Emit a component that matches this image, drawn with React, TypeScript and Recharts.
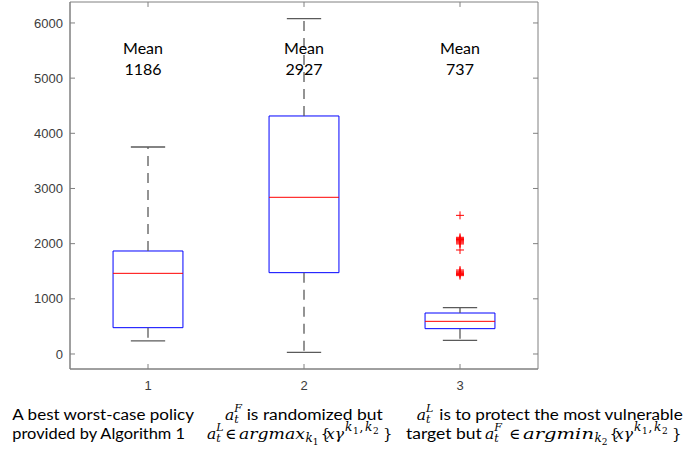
import React from 'react';
import {
  ComposedChart,
  XAxis,
  YAxis,
  ReferenceArea,
  ReferenceLine,
  ReferenceDot,
  Scatter,
} from 'recharts';

// ---- data ----
const categories = [1, 2, 3];
const xTickLabels = ['1', '2', '3'];
const yTicks = [0, 1000, 2000, 3000, 4000, 5000, 6000];
const lowerWhisker = [236, 30, 248];
const q1 = [477, 1474, 459];
const medians = [1462, 2840, 592];
const q3 = [1867, 4314, 743];
const upperWhisker = [3752, 6078, 840];
const means = [1186, 2927, 737];
const outlierCategory = 3;
const outlierValues = [
  2513, 2115, 2095, 2075, 2055, 2035, 2015, 1995, 1885, 1522, 1500, 1480, 1460, 1440, 1420,
];

// ---- layout constants ----
const W = 684;
const H = 453;
const Y_DOMAIN: [number, number] = [-272, 6380];
const X_DOMAIN: [number, number] = [0.5, 3.5];
const BOX_HALF = 0.224;
const CAP_HALF = 0.11;
const TICK_LEN_X = 0.032; // ~5px in x units
const TICK_LEN_Y = 90; // ~5px in y units
const MEAN_LABEL_Y = 5256;
const MEAN_LABEL_DX = [-5, 0, 0];

const BLUE = '#0000ff';
const RED = '#ff0000';
const WHISKER = '#5a5a5a';
const FRAME = '#808080';
const TICK_TEXT = '#3c3c3c';
const TEXT_FONT = 'Lato, "Open Sans", sans-serif';
const MATH_FONT = '"DejaVu Serif", "Liberation Serif", serif';
const TICK_FONT = '"Liberation Sans", Arial, sans-serif';

const outliers = outlierValues.map((v) => ({ x: outlierCategory, y: v }));

const PlusShape = (props: any) => {
  const { cx, cy } = props;
  if (cx == null || cy == null) return <g />;
  const s = 4;
  return (
    <g>
      <line x1={cx - s} y1={cy} x2={cx + s} y2={cy} stroke={RED} strokeWidth={1} />
      <line x1={cx} y1={cy - s} x2={cx} y2={cy + s} stroke={RED} strokeWidth={1} />
    </g>
  );
};

const makeMeanShape = (value: number, dx: number) => (props: any) => {
  const { cx, cy } = props;
  return (
    <g>
      <text x={cx + dx} y={cy - 10} textAnchor="middle" fontFamily={TEXT_FONT} fontSize={16} fill="#000">
        Mean
      </text>
      <text x={cx + dx} y={cy + 10.5} textAnchor="middle" fontFamily={TEXT_FONT} fontSize={16} fill="#000">
        {String(value)}
      </text>
    </g>
  );
};

// ---- caption helpers ----
const Txt = ({ x, y, len, children }: any) => (
  <text x={x} y={y} fontFamily={TEXT_FONT} fontSize={15.5} fill="#000" textLength={len} lengthAdjust="spacingAndGlyphs">
    {children}
  </text>
);

const MI = ({ x, y, size = 16, len, children, italic = true }: any) => (
  <text
    x={x}
    y={y}
    fontFamily={MATH_FONT}
    fontStyle={italic ? 'italic' : 'normal'}
    fontSize={size}
    fill="#000"
    textLength={len}
    lengthAdjust={len ? 'spacingAndGlyphs' : undefined}
  >
    {children}
  </text>
);

const Atom = ({ x, y, sup }: any) => (
  <g>
    <MI x={x} y={y} size={15.5}>a</MI>
    <MI x={x + 9.2} y={y - 7.5} size={11}>{sup}</MI>
    <MI x={x + 9.2} y={y + 3.5} size={11}>t</MI>
  </g>
);

const SetExpr = ({ x0, y, word, wordLen, idx }: any) => {
  const E = x0 + 14 + wordLen;
  return (
    <g>
      <MI x={x0} y={y} size={15} italic={false}>∈</MI>
      <MI x={x0 + 14} y={y} size={15.5} len={wordLen}>{word}</MI>
      <MI x={E + 0.5} y={y + 3.5} size={12}>k</MI>
      <MI x={E + 7.7} y={y + 6} size={9} italic={false}>{idx}</MI>
      <MI x={E + 15.5} y={y} size={15} italic={false}>{'{'}</MI>
      <MI x={E + 21} y={y} size={15.5} len={18}>xγ</MI>
      <MI x={E + 40} y={y - 7.5} size={12}>k</MI>
      <MI x={E + 48} y={y - 5} size={9} italic={false}>1</MI>
      <MI x={E + 54.5} y={y - 7.5} size={12} italic={false}>,</MI>
      <MI x={E + 60} y={y - 7.5} size={12}>k</MI>
      <MI x={E + 68} y={y - 5} size={9} italic={false}>2</MI>
      <MI x={E + 78} y={y} size={15} italic={false}>{'}'}</MI>
    </g>
  );
};

const Caption = () => (
  <svg
    width={W}
    height={H}
    style={{ position: 'absolute', left: 0, top: 0, pointerEvents: 'none' }}
  >
    {/* column 1 */}
    <Txt x={12.3} y={420} len={181.7}>A best worst-case policy</Txt>
    <Txt x={12.3} y={438.5} len={172.7}>provided by Algorithm 1</Txt>

    {/* column 2 */}
    <Atom x={225} y={419.5} sup="F" />
    <Txt x={246.7} y={420} len={136}>is randomized but</Txt>
    <Atom x={207} y={438.5} sup="L" />
    <SetExpr x0={225} y={438.5} word="argmax" wordLen={66} idx="1" />

    {/* column 3 */}
    <Atom x={416.7} y={419.5} sup="L" />
    <Txt x={439.3} y={420} len={243.4}>is to protect the most vulnerable</Txt>
    <Txt x={406} y={438.5} len={75.7}>target but</Txt>
    <Atom x={485} y={438.5} sup="F" />
    <SetExpr x0={509} y={438.5} word="argmin" wordLen={71} idx="2" />
  </svg>
);

export default function App() {
  return (
    <div style={{ position: 'absolute', left: 0, top: 0, width: W, height: H, background: '#fff' }}>
      <ComposedChart width={W} height={H} margin={{ top: 2, right: 146, bottom: 0, left: 0 }}>
        <XAxis
          dataKey="x"
          type="number"
          domain={X_DOMAIN}
          ticks={categories}
          tickFormatter={(v: number) => xTickLabels[categories.indexOf(v)] ?? ''}
          height={84}
          tickSize={-5}
          tickMargin={17}
          stroke={FRAME}
          tick={{ fill: TICK_TEXT, fontSize: 13, fontFamily: TICK_FONT }}
          allowDataOverflow
        />
        <YAxis
          dataKey="y"
          type="number"
          domain={Y_DOMAIN}
          ticks={yTicks}
          width={70}
          tickSize={-5}
          tickMargin={12}
          stroke={FRAME}
          tick={{ fill: TICK_TEXT, fontSize: 13, fontFamily: TICK_FONT }}
          allowDataOverflow
        />

        {/* full box frame */}
        <ReferenceArea
          x1={X_DOMAIN[0]}
          x2={X_DOMAIN[1]}
          y1={Y_DOMAIN[0]}
          y2={Y_DOMAIN[1]}
          fill="none"
          fillOpacity={0}
          stroke={FRAME}
          strokeWidth={1}
        />
        {/* inward ticks on top edge */}
        {categories.map((c) => (
          <ReferenceLine
            key={`tt${c}`}
            segment={[{ x: c, y: Y_DOMAIN[1] }, { x: c, y: Y_DOMAIN[1] - TICK_LEN_Y }]}
            stroke={FRAME}
            strokeWidth={1}
          />
        ))}
        {/* inward ticks on right edge */}
        {yTicks.map((t) => (
          <ReferenceLine
            key={`rt${t}`}
            segment={[{ x: X_DOMAIN[1], y: t }, { x: X_DOMAIN[1] - TICK_LEN_X, y: t }]}
            stroke={FRAME}
            strokeWidth={1}
          />
        ))}

        {categories.map((c, i) => (
          <ReferenceLine
            key={`wu${i}`}
            segment={[{ x: c, y: q3[i] }, { x: c, y: upperWhisker[i] }]}
            stroke={WHISKER}
            strokeWidth={1.3}
            strokeDasharray="10 7"
          />
        ))}
        {categories.map((c, i) => (
          <ReferenceLine
            key={`wl${i}`}
            segment={[{ x: c, y: q1[i] }, { x: c, y: lowerWhisker[i] }]}
            stroke={WHISKER}
            strokeWidth={1.3}
            strokeDasharray="10 7"
          />
        ))}
        {categories.map((c, i) => (
          <ReferenceLine
            key={`cu${i}`}
            segment={[{ x: c - CAP_HALF, y: upperWhisker[i] }, { x: c + CAP_HALF, y: upperWhisker[i] }]}
            stroke={WHISKER}
            strokeWidth={1.3}
          />
        ))}
        {categories.map((c, i) => (
          <ReferenceLine
            key={`cl${i}`}
            segment={[{ x: c - CAP_HALF, y: lowerWhisker[i] }, { x: c + CAP_HALF, y: lowerWhisker[i] }]}
            stroke={WHISKER}
            strokeWidth={1.3}
          />
        ))}
        {categories.map((c, i) => (
          <ReferenceArea
            key={`box${i}`}
            x1={c - BOX_HALF}
            x2={c + BOX_HALF}
            y1={q1[i]}
            y2={q3[i]}
            fill="none"
            fillOpacity={0}
            stroke={BLUE}
            strokeWidth={1}
          />
        ))}
        {categories.map((c, i) => (
          <ReferenceLine
            key={`med${i}`}
            segment={[{ x: c - BOX_HALF, y: medians[i] }, { x: c + BOX_HALF, y: medians[i] }]}
            stroke={RED}
            strokeWidth={1}
          />
        ))}
        <Scatter data={outliers} dataKey="y" shape={PlusShape} isAnimationActive={false} />
        {categories.map((c, i) => (
          <ReferenceDot
            key={`mean${i}`}
            x={c}
            y={MEAN_LABEL_Y}
            r={1}
            shape={makeMeanShape(means[i], MEAN_LABEL_DX[i])}
          />
        ))}
      </ComposedChart>
      <Caption />
    </div>
  );
}
